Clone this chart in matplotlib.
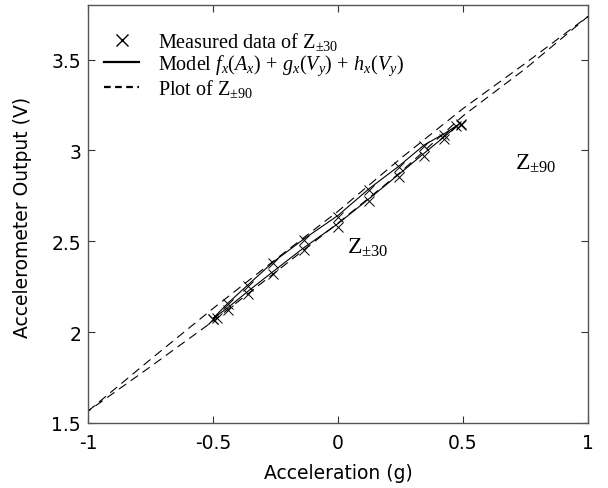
import matplotlib
matplotlib.use("Agg")
import matplotlib.pyplot as plt
import numpy as np

plt.rcParams['axes.unicode_minus'] = False
plt.rcParams['mathtext.fontset'] = 'custom'
plt.rcParams['mathtext.rm'] = 'Liberation Serif'
plt.rcParams['mathtext.it'] = 'Liberation Serif:italic'

# Z±90 dashed loop (upper and lower branches)
z90_x = [-1.0, -0.75, -0.5, -0.25, 0.0, 0.25, 0.5, 0.75, 1.0]
z90_upper = [1.565, 1.85, 2.13, 2.40, 2.665, 2.955, 3.23, 3.48, 3.737]
z90_lower = [1.565, 1.81, 2.06, 2.33, 2.60, 2.88, 3.19, 3.45, 3.737]

# Z±30 measured data
meas_x = [-0.5, -0.44, -0.36, -0.26, -0.136, 0.0, 0.125, 0.245, 0.345, 0.425, 0.49]
meas_upper = [2.07, 2.155, 2.255, 2.38, 2.508, 2.635, 2.784, 2.91, 3.026, 3.087, 3.147]
meas_lower = [2.07, 2.12, 2.21, 2.318, 2.45, 2.58, 2.72, 2.855, 2.97, 3.065, 3.14]
meas_extra_x = [-0.485, 0.472]
meas_extra_y = [2.08, 3.136]

# Model fit (solid loop)
model_x = [-0.5, -0.44, -0.36, -0.26, -0.136, 0.0, 0.125, 0.245, 0.345, 0.425, 0.49]
model_upper = [2.075, 2.16, 2.26, 2.385, 2.513, 2.642, 2.79, 2.915, 3.03, 3.092, 3.15]
model_lower = [2.075, 2.135, 2.225, 2.333, 2.465, 2.597, 2.735, 2.87, 2.985, 3.075, 3.15]

xticks = [-1, -0.5, 0, 0.5, 1]
xtick_labels = ["-1", "-0.5", "0", "0.5", "1"]
yticks = [1.5, 2, 2.5, 3, 3.5]
ytick_labels = ["1.5", "2", "2.5", "3", "3.5"]

fig = plt.figure(figsize=(6.08, 4.89), dpi=100)
ax = fig.add_axes([88/608, 1-424/489, 500/608, 418/489])

lx = list(z90_x) + list(z90_x[::-1])
ly = list(z90_upper) + list(z90_lower[::-1])
ax.plot(lx, ly, color='black', lw=0.8, ls=(0, (8, 5)))

mx = list(model_x) + list(model_x[::-1])
my = list(model_upper) + list(model_lower[::-1])
ax.plot(mx, my, color='black', lw=0.8, ls='-')

mk = dict(ls='none', marker='x', ms=7, mew=0.7, color='black')
ax.plot(meas_x, meas_upper, **mk)
ax.plot(meas_x, meas_lower, **mk)
ax.plot(meas_extra_x, meas_extra_y, **mk)

# legend handles
h1, = ax.plot([], [], ls='none', marker='x', ms=8, mew=1.0, color='black')
h2, = ax.plot([], [], ls='-', lw=1.6, color='black')
h3, = ax.plot([], [], ls=(0, (3, 2)), lw=1.6, color='black')
leg = ax.legend([h1, h2, h3],
                [r"Measured data of $\mathrm{Z}_{\pm30}$",
                 r"Model $f_x(A_x)\,+\,g_x(V_y)\,+\,h_x(V_y)$",
                 r"Plot of $\mathrm{Z}_{\pm90}$"],
                loc='upper left', bbox_to_anchor=(0.0, 0.978), frameon=False,
                prop={'family': 'Liberation Serif', 'size': 14.5},
                handlelength=1.75, handletextpad=0.95, labelspacing=0.0,
                borderaxespad=0.4)

ax.text(0.036, 2.47, r"$\mathrm{Z}_{\pm30}$", fontsize=17, family='Liberation Serif',
        ha='left', va='center')
ax.text(0.708, 2.93, r"$\mathrm{Z}_{\pm90}$", fontsize=17, family='Liberation Serif',
        ha='left', va='center')

ax.set_xlim(-1, 1)
ax.set_ylim(1.5, 3.8)
ax.set_xticks(xticks)
ax.set_xticklabels(xtick_labels)
ax.set_yticks(yticks)
ax.set_yticklabels(ytick_labels)
ax.tick_params(direction='in', length=5, width=0.8, top=True, right=True,
               labelsize=13.5, colors='#333333', labelcolor='black')
ax.tick_params(axis='x', pad=7)
ax.tick_params(axis='y', pad=5)
for lab in ax.get_xticklabels() + ax.get_yticklabels():
    lab.set_family('DejaVu Sans')
for s in ax.spines.values():
    s.set_color('#555555')
    s.set_linewidth(1.0)

ax.set_xlabel("Acceleration (g)", family='DejaVu Sans', fontsize=13.5)
ax.set_ylabel("Accelerometer Output (V)", family='DejaVu Sans', fontsize=13.5)
ax.xaxis.set_label_coords(0.5, -0.095)
ax.yaxis.set_label_coords(-0.112, 0.495)

fig.savefig("out.png", dpi=100)
